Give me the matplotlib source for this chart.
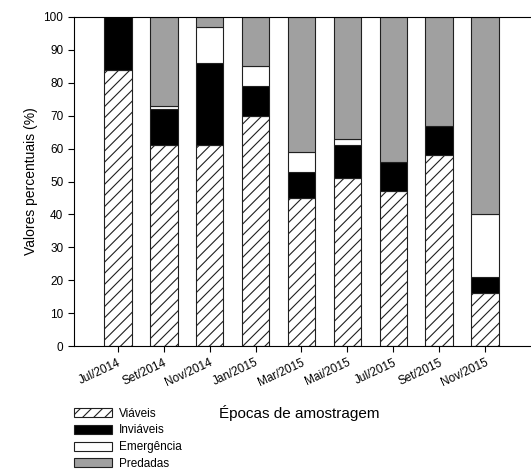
import matplotlib
matplotlib.use("Agg")
import matplotlib.pyplot as plt
import numpy as np

epocas = ["Jul/2014", "Set/2014", "Nov/2014", "Jan/2015", "Mar/2015",
          "Mai/2015", "Jul/2015", "Set/2015", "Nov/2015"]
viaveis = [84, 61, 61, 70, 45, 51, 47, 58, 16]
inviaveis = [16, 11, 25, 9, 8, 10, 9, 9, 5]
emergencia = [0, 1, 11, 6, 6, 2, 0, 0, 19]
predadas = [0, 27, 3, 15, 41, 37, 44, 33, 60]

plt.rcParams['font.family'] = ['Liberation Sans', 'DejaVu Sans']
plt.rcParams['hatch.linewidth'] = 0.8
fig = plt.figure(figsize=(5.31, 4.69), dpi=100)
ax = fig.add_axes([0.139, 0.262, 0.861, 0.702])

x = np.arange(len(epocas))
w = 0.6
ec = "#202020"
b1 = ax.bar(x, viaveis, w, color="white", edgecolor=ec, hatch="///", linewidth=0.8, label="Viáveis")
base = np.array(viaveis)
b2 = ax.bar(x, inviaveis, w, bottom=base, color="black", edgecolor=ec, linewidth=0.8, label="Inviáveis")
base = base + np.array(inviaveis)
b3 = ax.bar(x, emergencia, w, bottom=base, color="white", edgecolor=ec, linewidth=0.8, label="Emergência")
base = base + np.array(emergencia)
b4 = ax.bar(x, predadas, w, bottom=base, color="#a0a0a0", edgecolor=ec, linewidth=0.8, label="Predadas")

ax.set_xlim(-0.96, 9.0)
ax.set_ylim(0, 100)
ax.set_yticks(range(0, 101, 10))
ax.set_xticks(x)
ax.set_xticklabels(epocas, rotation=25, ha="right", rotation_mode="anchor", fontsize=8.5)
ax.tick_params(axis="y", labelsize=8.5, direction="out", length=4)
ax.tick_params(axis="x", direction="out", length=4)
ax.spines["right"].set_visible(False)
ax.set_ylabel("Valores percentuais (%)", fontsize=10)
fig.text(0.413, 0.12, "Épocas de amostragem", fontsize=11, ha="left", va="center")

fig.legend(handles=[b1, b2, b3, b4], loc="lower left", bbox_to_anchor=(0.13, -0.012),
           fontsize=8.5, frameon=False, handlelength=3.2, handleheight=0.8,
           labelspacing=0.4, borderaxespad=0.0, handletextpad=0.6)

plt.savefig("out.png", dpi=100)
